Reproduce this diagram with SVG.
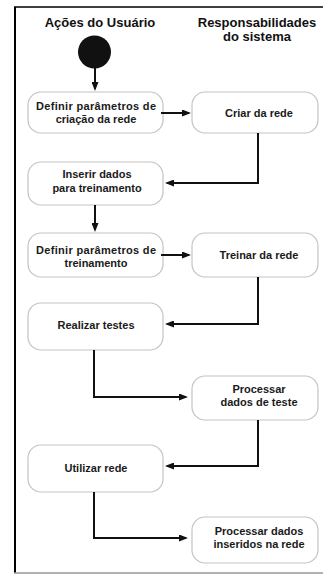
<svg xmlns="http://www.w3.org/2000/svg" width="323" height="576" viewBox="0 0 323 576">
<style>
.box{fill:#fff;stroke:#c4c4c4;stroke-width:1.2;}
.t{font-family:"Liberation Sans",Arial,sans-serif;font-size:11px;font-weight:bold;fill:#1a1a1a;text-anchor:middle;}
.h{font-family:"Liberation Sans",Arial,sans-serif;font-size:13px;font-weight:bold;fill:#111;text-anchor:middle;}
.c{fill:none;stroke:#111;stroke-width:2;}
</style>
<defs>
<marker id="ah" viewBox="0 0 9 7" markerWidth="9" markerHeight="7" refX="7" refY="3.5" markerUnits="userSpaceOnUse" orient="auto">
<path d="M0,0 L9,3.5 L0,7 z" fill="#111"/>
</marker>
</defs>
<rect width="323" height="576" fill="#fff"/>
<line x1="15" y1="7" x2="15" y2="573" stroke="#000" stroke-width="2"/>
<line x1="14" y1="7" x2="323" y2="7" stroke="#000" stroke-width="1.5"/>
<line x1="14" y1="573" x2="323" y2="573" stroke="#999" stroke-width="1.5"/>
<g id="titles">
<text class="h" x="100" y="27">Ações do Usuário</text>
<text class="h" x="257" y="27">Responsabilidades</text>
<text class="h" x="257" y="41">do sistema</text>
</g>
<g id="start"><circle cx="94.5" cy="52" r="16.5" fill="#111"/></g>
<g id="n1"><rect class="box" x="28" y="92" width="135" height="41" rx="13"/><text class="t" x="96" y="109.5" textLength="120" lengthAdjust="spacing">Definir parâmetros de</text><text class="t" x="96" y="122.5">criação da rede</text></g>
<g id="n2"><rect class="box" x="192" y="92" width="126" height="41" rx="13"/><text class="t" x="259" y="117">Criar da rede</text></g>
<g id="n3"><rect class="box" x="28" y="162" width="135" height="43" rx="13"/><text class="t" x="97" y="178">Inserir dados</text><text class="t" x="97" y="192">para treinamento</text></g>
<g id="n4"><rect class="box" x="28" y="233" width="135" height="44" rx="13"/><text class="t" x="96" y="254" textLength="120" lengthAdjust="spacing">Definir parâmetros de</text><text class="t" x="96" y="267">treinamento</text></g>
<g id="n5"><rect class="box" x="192" y="233" width="126" height="44" rx="13"/><text class="t" x="259" y="259">Treinar da rede</text></g>
<g id="n6"><rect class="box" x="28" y="303" width="135" height="47" rx="13"/><text class="t" x="96" y="329">Realizar testes</text></g>
<g id="n7"><rect class="box" x="192" y="376" width="126" height="44" rx="13"/><text class="t" x="259" y="393">Processar</text><text class="t" x="259" y="406">dados de teste</text></g>
<g id="n8"><rect class="box" x="28" y="445" width="135" height="47" rx="13"/><text class="t" x="96" y="472">Utilizar rede</text></g>
<g id="n9"><rect class="box" x="192" y="517" width="126" height="46" rx="13"/><text class="t" x="259" y="535">Processar dados</text><text class="t" x="259" y="548">inseridos na rede</text></g>
<g id="connectors">
<path class="c" d="M95,68 V89" marker-end="url(#ah)"/>
<path class="c" d="M161,113 H189" marker-end="url(#ah)"/>
<path class="c" d="M258,133 V183 H167" marker-end="url(#ah)"/>
<path class="c" d="M95,205 V230" marker-end="url(#ah)"/>
<path class="c" d="M161,255 H189" marker-end="url(#ah)"/>
<path class="c" d="M258,277 V324 H167" marker-end="url(#ah)"/>
<path class="c" d="M94,350 V397 H186" marker-end="url(#ah)"/>
<path class="c" d="M258,420 V466 H167" marker-end="url(#ah)"/>
<path class="c" d="M94,492 V538 H186" marker-end="url(#ah)"/>
</g>
</svg>
